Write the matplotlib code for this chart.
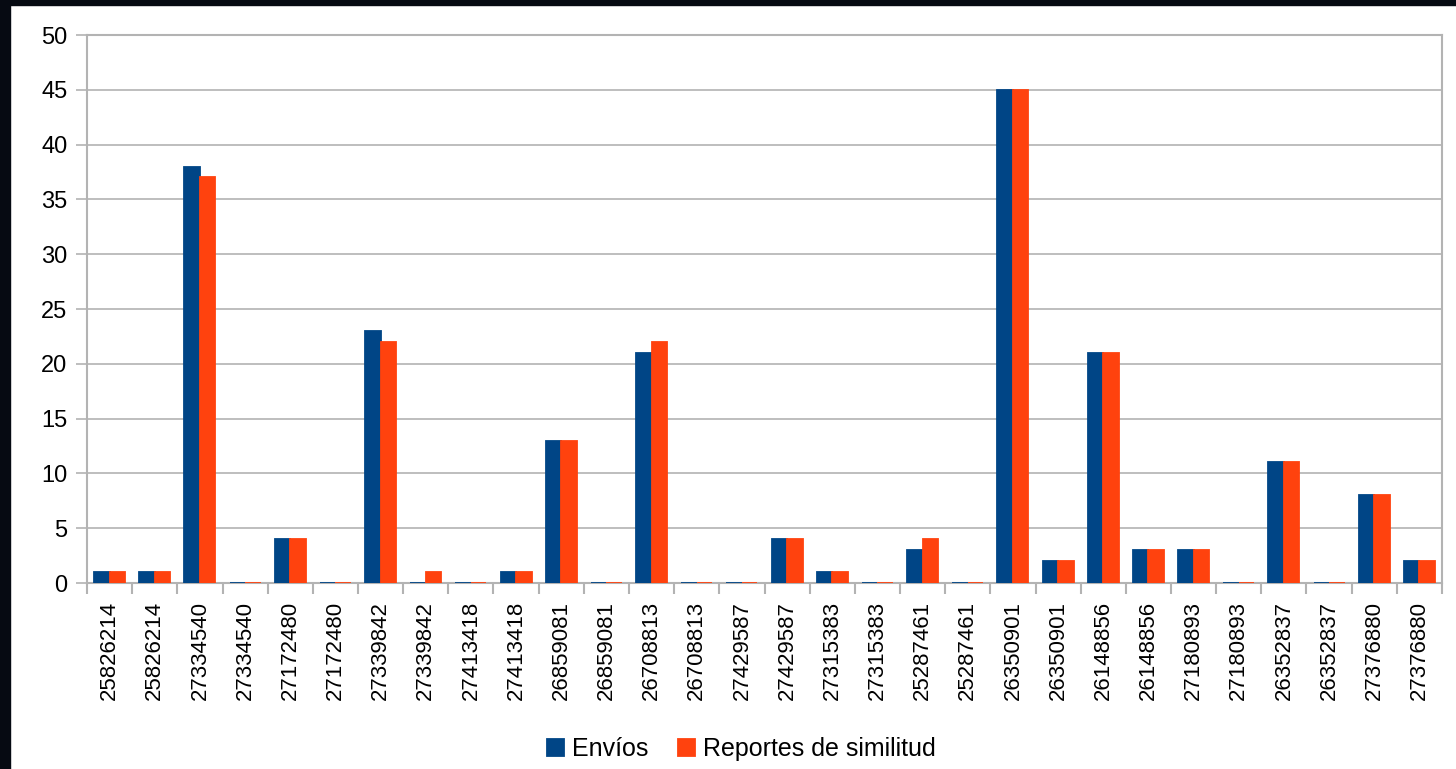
import numpy as np
import matplotlib
matplotlib.use("Agg")
import matplotlib.pyplot as plt
from matplotlib.patches import Rectangle

plt.rcParams['font.family'] = ['Liberation Sans', 'DejaVu Sans']

# datos
ids = ["25826214", "25826214", "27334540", "27334540", "27172480", "27172480",
       "27339842", "27339842", "27413418", "27413418", "26859081", "26859081",
       "26708813", "26708813", "27429587", "27429587", "27315383", "27315383",
       "25287461", "25287461", "26350901", "26350901", "26148856", "26148856",
       "27180893", "27180893", "26352837", "26352837", "27376880", "27376880"]
envios = [1, 1, 38, 0, 4, 0, 23, 0, 0, 1, 13, 0, 21, 0, 0, 4, 1, 0,
          3, 0, 45, 2, 21, 3, 3, 0, 11, 0, 8, 2]
reportes = [1, 1, 37, 0, 4, 0, 22, 1, 0, 1, 13, 0, 22, 0, 0, 4, 1, 0,
            4, 0, 45, 2, 21, 3, 3, 0, 11, 0, 8, 2]
yticks = [0, 5, 10, 15, 20, 25, 30, 35, 40, 45, 50]

azul = "#004586"
naranja = "#ff420e"
gris = "#b3b3b3"

fig = plt.figure(figsize=(14.56, 7.69), dpi=100)
ax = fig.add_axes([87/1456, 1-583/769, (1442-87)/1456, (583-35)/769])

x = np.arange(len(ids))
w = 0.343
ax.bar(x - w/2, envios, w, color=azul, edgecolor=azul, linewidth=1.3, label="Envíos", zorder=3)
ax.bar(x + w/2, reportes, w, color=naranja, edgecolor=naranja, linewidth=1.3,
       label="Reportes de similitud", zorder=3)

ax.set_xlim(-0.5, len(ids) - 0.5)
ax.set_ylim(0, 50)
ax.set_yticks(yticks)
ax.yaxis.grid(True, color=gris, linewidth=1.2, zorder=0)
ax.set_axisbelow(True)

ax.set_xticks(x)
ax.set_xticklabels(ids, rotation=90, fontsize=16)
ax.set_xticks(np.arange(len(ids) + 1) - 0.5, minor=True)
ax.tick_params(axis='x', which='major', length=0, pad=13)
ax.tick_params(axis='x', which='minor', length=8, width=1.5, color=gris)
ax.tick_params(axis='y', length=8, width=1.2, color=gris, labelsize=17, pad=6)

for s in ax.spines.values():
    s.set_color(gris)
    s.set_linewidth(1.5)

fig.legend(loc='center', bbox_to_anchor=(0.509, 1-749/769), ncol=2, frameon=False,
           fontsize=18, handlelength=0.7, handleheight=0.7, handletextpad=0.3,
           columnspacing=1.2)

# borde negro de la captura
fig.patches.append(Rectangle((0, 0), 10/1456, 1, transform=fig.transFigure,
                             color="#060a12", zorder=10))
fig.patches.append(Rectangle((0, 1-5/769), 1, 5/769, transform=fig.transFigure,
                             color="#060a12", zorder=10))

fig.savefig("out.png", dpi=100)
